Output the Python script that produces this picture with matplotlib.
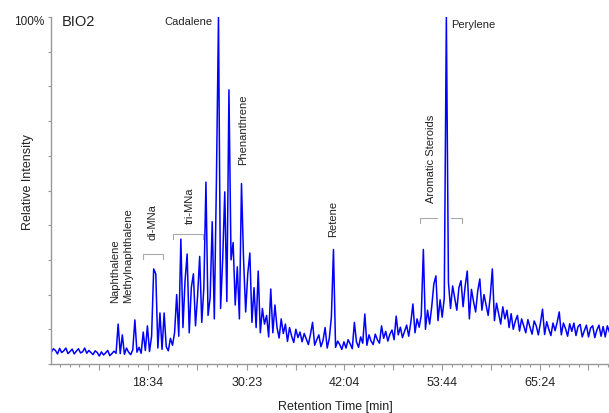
import numpy as np
import matplotlib.pyplot as plt

plt.rcParams['font.family'] = ['Liberation Sans', 'DejaVu Sans']

# retention time grid (min) and relative intensity (%)
t_start = 7.0
t_step = 0.25
intensity = [
    3.4, 4.4, 3.9, 2.9, 4.5, 3.3, 3.8, 4.6, 3.0, 3.6, 4.3, 2.9, 3.7, 4.4, 3.2, 3.5, 4.6, 3.1, 3.9, 3.3,
    2.7, 3.8, 3.3, 2.3, 3.5, 2.6, 3.2, 3.9, 2.4, 3.0, 3.7, 3.1, 11.5, 3.0, 8.4, 2.8, 4.6, 3.4, 2.7, 4.1,
    12.7, 3.4, 4.8, 3.1, 9.2, 3.9, 11.0, 3.6, 8.0, 27.4, 26.0, 4.6, 14.7, 4.2, 14.7, 5.0, 3.8, 7.4, 5.4, 9.0,
    20.0, 8.0, 36.0, 10.5, 24.0, 31.7, 9.0, 22.0, 26.0, 11.0, 19.6, 31.0, 12.0, 22.0, 52.4, 14.0, 19.0, 41.0, 13.0, 52.4,
    100.0, 16.0, 30.0, 49.6, 18.0, 79.0, 30.0, 35.0, 17.0, 28.0, 13.0, 52.0, 30.0, 15.0, 26.0, 32.0, 12.0, 22.0, 10.5, 26.8,
    9.0, 16.0, 11.5, 14.0, 7.8, 21.6, 9.0, 17.0, 10.5, 7.5, 13.0, 8.8, 11.5, 6.5, 10.5, 8.0, 6.2, 10.0, 7.6, 9.2,
    6.4, 8.8, 7.2, 5.6, 8.6, 12.0, 5.4, 7.0, 8.4, 5.0, 6.8, 10.5, 4.6, 7.4, 13.5, 33.0, 4.8, 6.6, 5.6, 4.2,
    6.4, 4.6, 7.0, 5.8, 4.4, 12.0, 6.4, 4.8, 7.8, 6.0, 14.4, 5.4, 8.4, 6.6, 5.6, 8.6, 7.0, 6.0, 11.0, 7.4,
    9.4, 6.6, 8.6, 9.8, 7.0, 13.8, 8.4, 10.6, 7.6, 9.4, 11.2, 8.0, 12.0, 17.3, 9.0, 13.0, 10.6, 14.0, 33.0, 10.0,
    15.5, 11.5, 16.5, 23.0, 25.4, 12.5, 18.5, 13.5, 19.0, 100.0, 23.5, 16.0, 22.5, 19.0, 15.5, 22.0, 24.0, 16.5, 22.5, 26.8,
    13.0, 21.5, 18.0, 15.0, 21.0, 24.5, 15.5, 20.0, 17.0, 14.0, 19.5, 27.4, 12.5, 17.5, 14.5, 11.5, 16.5, 13.0, 15.5, 10.5,
    14.5, 10.0, 12.4, 14.0, 9.5, 13.0, 11.0, 9.0, 12.8, 10.6, 8.6, 12.4, 11.0, 8.4, 11.8, 15.8, 8.5, 12.2, 10.0, 8.2,
    11.8, 9.6, 12.0, 15.0, 8.4, 11.8, 10.2, 8.0, 11.6, 9.4, 11.8, 8.2, 10.8, 11.4, 7.8, 9.6, 11.2, 7.8, 10.4, 11.0,
    7.6, 9.8, 11.2, 8.0, 10.8, 7.8, 11.0, 9.2,
]
rt = t_start + t_step * np.arange(len(intensity))

# tick labels (mm:ss) and their positions in minutes
tick_labels = ['18:34', '30:23', '42:04', '53:44', '65:24']
tick_pos = [18.567, 30.383, 42.067, 53.733, 65.4]

# compound labels: (text, time, intensity)
rot_labels = [
    ('Naphthalene', 14.62, 17.9),
    ('Methylnaphthalene', 16.17, 17.9),
    ('di-MNa', 19.05, 36.0),
    ('tri-MNa', 23.59, 40.6),
    ('Phenanthrene', 29.93, 57.6),
    ('Retene', 40.7, 36.9),
    ('Aromatic Steroids', 52.43, 46.7),
]
# brackets: (t_left, t_right, level)
brackets = [
    (17.97, 20.36, 31.7),
    (21.56, 25.15, 37.5),
]

fig = plt.figure(figsize=(6.09, 4.14), dpi=100)
ax = fig.add_axes([51 / 609, 49 / 414, 558 / 609, 347 / 414])

ax.plot(rt, intensity, color='#0000ff', lw=1.1)

for s in ['top', 'right']:
    ax.spines[s].set_visible(False)
for s in ['left', 'bottom']:
    ax.spines[s].set_color('#999999')
    ax.spines[s].set_linewidth(1.0)

# major ticks: labelled ones plus unlabelled midpoints
mids = [12.7, 24.475, 36.225, 47.9, 59.567, 71.233]
majors = sorted(tick_pos + mids)
labels = [tick_labels[tick_pos.index(m)] if m in tick_pos else '' for m in majors]
ax.set_xticks(majors)
ax.set_xticklabels(labels)
minors = []
edges = [6.86] + majors + [77.0]
for a, b in zip(edges[:-1], edges[1:]):
    minors += [m for m in np.linspace(a, b, 6)[1:-1] if 6.97 < m < 73.7]
ax.set_xticks(minors, minor=True)
ax.set_yticks(np.arange(0, 101, 10))
ax.set_yticklabels([])
ax.tick_params(axis='x', which='major', length=4.5, width=0.8, color='#999999',
               labelsize=9, labelcolor='#222222', pad=4)
ax.tick_params(axis='x', which='minor', length=2.2, width=0.8, color='#999999')
ax.tick_params(axis='y', length=2.5, width=0.8, color='#999999')

txt = dict(color='#222222', fontsize=8)
for name, t, y in rot_labels:
    ax.text(t, y, name, rotation=90, ha='center', va='bottom', **txt)
ax.text(26.34, 98.8, 'Cadalene', ha='right', va='center', **txt)
ax.text(54.83, 98.0, 'Perylene', ha='left', va='center', **txt)

br = dict(color='#aaaaaa', lw=0.8)
for a, b, lev in brackets:
    ax.plot([a, a, b, b], [lev - 1.5, lev, lev, lev - 1.5], **br)
ax.plot([51.11, 51.11, 53.15], [40.6, 42.1, 42.1], **br)
ax.plot([54.83, 56.14, 56.14], [42.1, 42.1, 40.6], **br)

ax.text(8.3, 98.8, 'BIO2', ha='left', va='center', fontsize=10.5, color='#222222')
ax.text(-0.012, 98.8, '100%', transform=ax.get_yaxis_transform(),
        ha='right', va='center', fontsize=8.5, color='#222222')

ax.set_xlim(6.97, 73.7)
ax.set_ylim(0, 100)

fig.text(28 / 609, 1 - 182 / 414, 'Relative Intensity', rotation=90,
         ha='center', va='center', fontsize=9, color='#222222')
fig.text(335 / 609, 1 - 407 / 414, 'Retention Time [min]',
         ha='center', va='center', fontsize=9, color='#222222')

fig.savefig('out.png', dpi=100)
